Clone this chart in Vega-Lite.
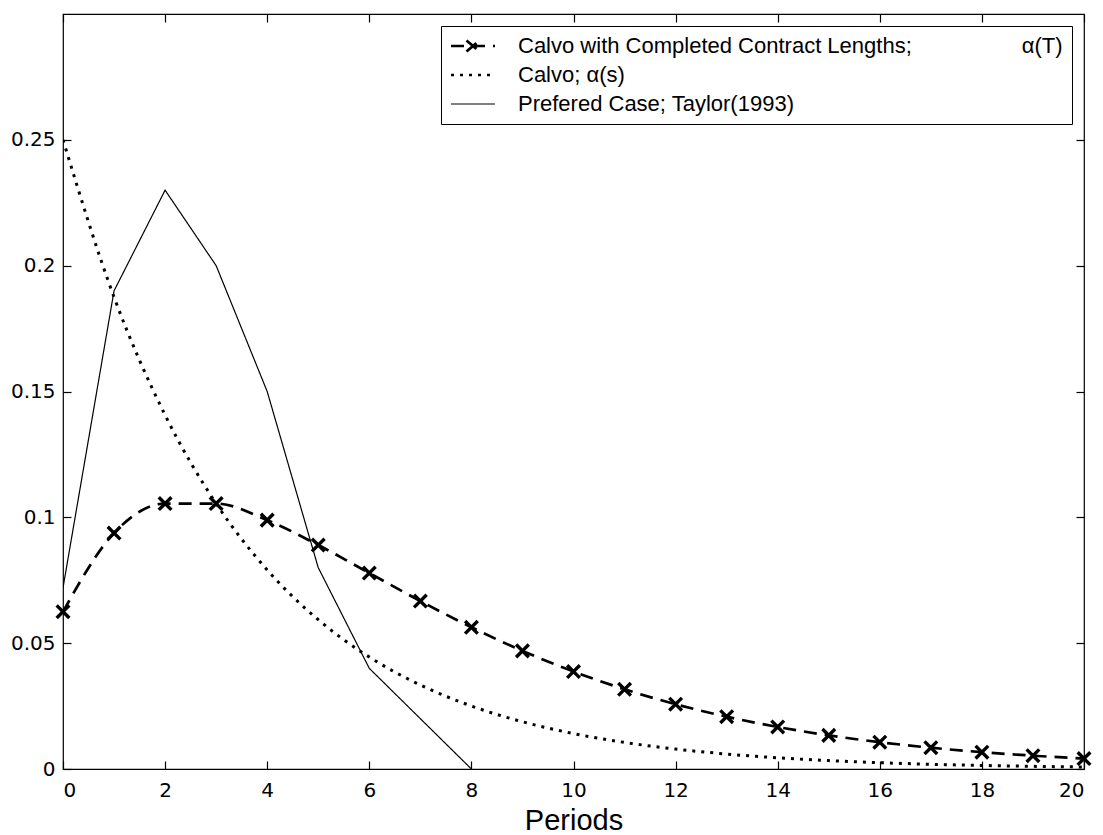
{
  "$schema": "https://vega.github.io/schema/vega-lite/v6.json",
  "width": 1021,
  "height": 755,
  "autosize": "none",
  "padding": {"left": 63, "top": 14, "right": 19, "bottom": 66},
  "background": "white",
  "config": {
    "view": {"stroke": "black", "strokeWidth": 1.2},
    "axis": {
      "domain": false,
      "grid": false,
      "tickColor": "black",
      "tickWidth": 1.2,
      "tickSize": -8,
      "labelColor": "black",
      "labelFont": "DejaVu Sans",
      "labelFontSize": 20,
      "titleColor": "black"
    }
  },
  "datasets": {
    "curves": [
      {"x": 0, "y": 0.0625, "series": "Calvo with Completed Contract Lengths;\u2003\u2003\u2003\u2003\u2003α(T)"},
      {"x": 1, "y": 0.09375, "series": "Calvo with Completed Contract Lengths;\u2003\u2003\u2003\u2003\u2003α(T)"},
      {"x": 2, "y": 0.10547, "series": "Calvo with Completed Contract Lengths;\u2003\u2003\u2003\u2003\u2003α(T)"},
      {"x": 3, "y": 0.10547, "series": "Calvo with Completed Contract Lengths;\u2003\u2003\u2003\u2003\u2003α(T)"},
      {"x": 4, "y": 0.09888, "series": "Calvo with Completed Contract Lengths;\u2003\u2003\u2003\u2003\u2003α(T)"},
      {"x": 5, "y": 0.08899, "series": "Calvo with Completed Contract Lengths;\u2003\u2003\u2003\u2003\u2003α(T)"},
      {"x": 6, "y": 0.07787, "series": "Calvo with Completed Contract Lengths;\u2003\u2003\u2003\u2003\u2003α(T)"},
      {"x": 7, "y": 0.06674, "series": "Calvo with Completed Contract Lengths;\u2003\u2003\u2003\u2003\u2003α(T)"},
      {"x": 8, "y": 0.05631, "series": "Calvo with Completed Contract Lengths;\u2003\u2003\u2003\u2003\u2003α(T)"},
      {"x": 9, "y": 0.04693, "series": "Calvo with Completed Contract Lengths;\u2003\u2003\u2003\u2003\u2003α(T)"},
      {"x": 10, "y": 0.03872, "series": "Calvo with Completed Contract Lengths;\u2003\u2003\u2003\u2003\u2003α(T)"},
      {"x": 11, "y": 0.03168, "series": "Calvo with Completed Contract Lengths;\u2003\u2003\u2003\u2003\u2003α(T)"},
      {"x": 12, "y": 0.02574, "series": "Calvo with Completed Contract Lengths;\u2003\u2003\u2003\u2003\u2003α(T)"},
      {"x": 13, "y": 0.02079, "series": "Calvo with Completed Contract Lengths;\u2003\u2003\u2003\u2003\u2003α(T)"},
      {"x": 14, "y": 0.0167, "series": "Calvo with Completed Contract Lengths;\u2003\u2003\u2003\u2003\u2003α(T)"},
      {"x": 15, "y": 0.01336, "series": "Calvo with Completed Contract Lengths;\u2003\u2003\u2003\u2003\u2003α(T)"},
      {"x": 16, "y": 0.01065, "series": "Calvo with Completed Contract Lengths;\u2003\u2003\u2003\u2003\u2003α(T)"},
      {"x": 17, "y": 0.00846, "series": "Calvo with Completed Contract Lengths;\u2003\u2003\u2003\u2003\u2003α(T)"},
      {"x": 18, "y": 0.00669, "series": "Calvo with Completed Contract Lengths;\u2003\u2003\u2003\u2003\u2003α(T)"},
      {"x": 19, "y": 0.00529, "series": "Calvo with Completed Contract Lengths;\u2003\u2003\u2003\u2003\u2003α(T)"},
      {"x": 20, "y": 0.00416, "series": "Calvo with Completed Contract Lengths;\u2003\u2003\u2003\u2003\u2003α(T)"},
      {"x": 0, "y": 0.25, "series": "Calvo; α(s)"},
      {"x": 1, "y": 0.1875, "series": "Calvo; α(s)"},
      {"x": 2, "y": 0.14063, "series": "Calvo; α(s)"},
      {"x": 3, "y": 0.10547, "series": "Calvo; α(s)"},
      {"x": 4, "y": 0.0791, "series": "Calvo; α(s)"},
      {"x": 5, "y": 0.05933, "series": "Calvo; α(s)"},
      {"x": 6, "y": 0.04449, "series": "Calvo; α(s)"},
      {"x": 7, "y": 0.03337, "series": "Calvo; α(s)"},
      {"x": 8, "y": 0.02503, "series": "Calvo; α(s)"},
      {"x": 9, "y": 0.01877, "series": "Calvo; α(s)"},
      {"x": 10, "y": 0.01408, "series": "Calvo; α(s)"},
      {"x": 11, "y": 0.01056, "series": "Calvo; α(s)"},
      {"x": 12, "y": 0.00792, "series": "Calvo; α(s)"},
      {"x": 13, "y": 0.00594, "series": "Calvo; α(s)"},
      {"x": 14, "y": 0.00445, "series": "Calvo; α(s)"},
      {"x": 15, "y": 0.00334, "series": "Calvo; α(s)"},
      {"x": 16, "y": 0.00251, "series": "Calvo; α(s)"},
      {"x": 17, "y": 0.00188, "series": "Calvo; α(s)"},
      {"x": 18, "y": 0.00141, "series": "Calvo; α(s)"},
      {"x": 19, "y": 0.00106, "series": "Calvo; α(s)"},
      {"x": 20, "y": 0.00079, "series": "Calvo; α(s)"},
      {"x": 0, "y": 0.072, "series": "Prefered Case; Taylor(1993)"},
      {"x": 1, "y": 0.19, "series": "Prefered Case; Taylor(1993)"},
      {"x": 2, "y": 0.23, "series": "Prefered Case; Taylor(1993)"},
      {"x": 3, "y": 0.2, "series": "Prefered Case; Taylor(1993)"},
      {"x": 4, "y": 0.15, "series": "Prefered Case; Taylor(1993)"},
      {"x": 5, "y": 0.08, "series": "Prefered Case; Taylor(1993)"},
      {"x": 6, "y": 0.04, "series": "Prefered Case; Taylor(1993)"},
      {"x": 7, "y": 0.02, "series": "Prefered Case; Taylor(1993)"},
      {"x": 8, "y": 0.0, "series": "Prefered Case; Taylor(1993)"}
    ]
  },
  "data": {"name": "curves"},
  "layer": [
    {
      "transform": [{"filter": {"field": "series", "equal": "Calvo with Completed Contract Lengths;\u2003\u2003\u2003\u2003\u2003α(T)"}}],
      "mark": {"type": "line", "interpolate": "monotone", "color": "black", "strokeWidth": 2.7, "clip": true},
      "encoding": {
        "x": {
          "field": "x", "type": "quantitative",
          "scale": {"domain": [0, 20], "nice": false},
          "axis": {
            "orient": "bottom",
            "values": [0, 2, 4, 6, 8, 10, 12, 14, 16, 18, 20],
            "labelPadding": 19,
            "title": "Periods",
            "titleFont": "Liberation Sans",
            "titleFontSize": 29,
            "titleFontWeight": "normal",
            "titlePadding": 6
          }
        },
        "y": {
          "field": "y", "type": "quantitative",
          "scale": {"domain": [0, 0.3], "nice": false, "zero": true},
          "axis": {
            "orient": "left",
            "values": [0, 0.05, 0.1, 0.15, 0.2, 0.25],
            "format": ".2~f",
            "labelPadding": 16,
            "title": null
          }
        },
        "strokeDash": {
          "field": "series", "type": "nominal",
          "scale": {
            "domain": ["Calvo with Completed Contract Lengths;\u2003\u2003\u2003\u2003\u2003α(T)", "Calvo; α(s)", "Prefered Case; Taylor(1993)"],
            "range": [[13, 8], [3, 6], [1, 0]]
          },
          "legend": {
            "title": null,
            "orient": "top-right",
            "offset": 12,
            "strokeColor": "black",
            "fillColor": "white",
            "padding": 9,
            "labelFont": "Liberation Sans",
            "labelFontSize": 22,
            "labelColor": "black",
            "labelLimit": 900,
            "labelOffset": 46,
            "symbolSize": 400,
            "symbolStrokeColor": "black",
            "rowPadding": 7,
            "encode": {
              "symbols": {
                "update": {
                  "shape": {"signal": "datum.index === 0 ? 'M-1,0H3.4M0.55,-0.55L1.85,0.55M0.55,0.55L1.85,-0.55' : 'M-1,0H3.4'"},
                  "strokeDash": {"signal": "datum.index === 1 ? [3, 6] : [1, 0]"},
                  "strokeWidth": {"signal": "datum.index === 2 ? 1.2 : 2.7"},
                  "stroke": {"value": "black"},
                  "fill": {"value": "transparent"}
                }
              }
            }
          }
        }
      }
    },
    {
      "transform": [{"filter": {"field": "series", "equal": "Calvo; α(s)"}}],
      "mark": {"type": "line", "interpolate": "monotone", "color": "black", "strokeWidth": 3, "clip": true},
      "encoding": {
        "x": {"field": "x", "type": "quantitative", "axis": null},
        "y": {"field": "y", "type": "quantitative", "axis": null},
        "strokeDash": {"field": "series", "type": "nominal"}
      }
    },
    {
      "transform": [{"filter": {"field": "series", "equal": "Prefered Case; Taylor(1993)"}}],
      "mark": {"type": "line", "color": "black", "strokeWidth": 1.2, "clip": true},
      "encoding": {
        "x": {"field": "x", "type": "quantitative", "axis": null},
        "y": {"field": "y", "type": "quantitative", "axis": null},
        "strokeDash": {"field": "series", "type": "nominal"}
      }
    },
    {
      "transform": [{"filter": {"field": "series", "equal": "Calvo with Completed Contract Lengths;\u2003\u2003\u2003\u2003\u2003α(T)"}}],
      "mark": {
        "type": "point",
        "shape": "M-1,-1L1,1M-1,1L1,-1",
        "filled": false,
        "stroke": "black",
        "strokeWidth": 3.4,
        "size": 160,
        "opacity": 1,
        "clip": false
      },
      "encoding": {
        "x": {
          "field": "x", "type": "quantitative",
          "axis": {"orient": "top", "values": [0, 2, 4, 6, 8, 10, 12, 14, 16, 18, 20], "labels": false, "title": null}
        },
        "y": {
          "field": "y", "type": "quantitative",
          "axis": {"orient": "right", "values": [0, 0.05, 0.1, 0.15, 0.2, 0.25], "labels": false, "title": null}
        }
      }
    }
  ],
  "resolve": {"axis": {"x": "independent", "y": "independent"}}
}
